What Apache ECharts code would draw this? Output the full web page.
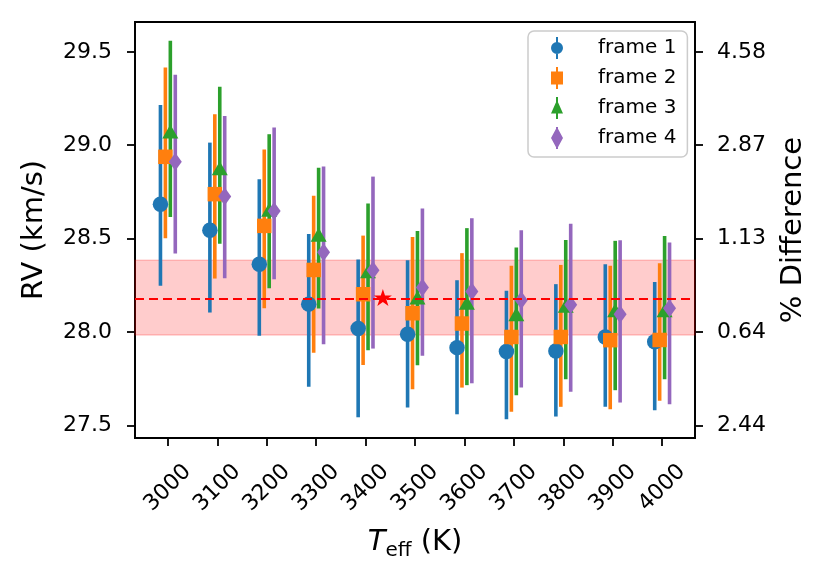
<!DOCTYPE html>
<html lang="en">
<head>
<meta charset="UTF-8">
<title>RV vs Teff</title>
<script src="https://cdn.jsdelivr.net/npm/echarts@6.0.0/dist/echarts.min.js"></script>
<style>
  html, body { margin: 0; padding: 0; background: #fff; }
  #main { width: 831px; height: 580px; }
</style>
</head>
<body>
<div id="main"></div>
<script>
// temperatures on the x axis
var temps = [3000, 3100, 3200, 3300, 3400, 3500, 3600, 3700, 3800, 3900, 4000];

// RV values per frame (km/s), with the top and bottom ends of each error bar
var rv1   = [28.684, 28.545, 28.363, 28.149, 28.018, 27.988, 27.916, 27.895, 27.898, 27.973, 27.947];
var rv1Hi = [29.216, 29.014, 28.818, 28.524, 28.388, 28.384, 28.277, 28.220, 28.256, 28.363, 28.268];
var rv1Lo = [28.247, 28.104, 27.979, 27.706, 27.543, 27.595, 27.559, 27.533, 27.547, 27.600, 27.581];

var rv2   = [28.938, 28.738, 28.568, 28.332, 28.202, 28.100, 28.045, 27.973, 27.973, 27.956, 27.957];
var rv2Hi = [29.416, 29.166, 28.977, 28.730, 28.516, 28.509, 28.422, 28.354, 28.359, 28.354, 28.368];
var rv2Lo = [28.502, 28.286, 28.127, 27.889, 27.823, 27.693, 27.702, 27.572, 27.599, 27.586, 27.631];

var rv3   = [29.073, 28.877, 28.654, 28.521, 28.325, 28.184, 28.157, 28.095, 28.140, 28.116, 28.116];
var rv3Hi = [29.559, 29.313, 29.059, 28.880, 28.688, 28.541, 28.556, 28.452, 28.493, 28.488, 28.514];
var rv3Lo = [28.616, 28.473, 28.234, 28.125, 27.902, 27.822, 27.715, 27.661, 27.747, 27.688, 27.747];

var rv4   = [28.911, 28.725, 28.648, 28.427, 28.331, 28.238, 28.216, 28.170, 28.145, 28.095, 28.127];
var rv4Hi = [29.377, 29.157, 29.095, 28.886, 28.832, 28.661, 28.609, 28.545, 28.580, 28.491, 28.479];
var rv4Lo = [28.420, 28.288, 28.282, 27.934, 27.911, 27.872, 27.725, 27.702, 27.680, 27.622, 27.613];

// horizontal shift of each frame around its temperature (K)
var frameOffsets = [-15, -5, 5, 15];

// reference RV, its band, and the star marker
var refRV = 28.184;
var refBand = [27.984, 28.384];
var starPoint = [3435, 28.184];

// tick labels
var rvTicks = [27.5, 28.0, 28.5, 29.0, 29.5];
var pctLabels = ['2.44', '0.64', '1.13', '2.87', '4.58'];

var frameNames = ['frame 1', 'frame 2', 'frame 3', 'frame 4'];
var frameColors = ['#1f77b4', '#ff7f0e', '#2ca02c', '#9467bd'];
var frameSymbols = ['circle', 'rect', 'triangle', 'diamond'];
var frameSizes = [15.5, 14.5, [16, 14], [13, 18]];
var legendIcons = [
  'path://M5,0 L7,0 L7,22 L5,22 Z M0,11 A6,6 0 0,1 12,11 A6,6 0 0,1 0,11 Z',
  'path://M5,0 L7,0 L7,22 L5,22 Z M0,4.5 L12,4.5 L12,17.5 L0,17.5 Z',
  'path://M5,0 L7,0 L7,22 L5,22 Z M6,3 L12,16.5 L0,16.5 Z',
  'path://M5,0 L7,0 L7,22 L5,22 Z M6,0 L12,11 L6,22 L0,11 Z'
];
var starPath = 'path://M50,0 L61.23,34.55 L97.55,34.55 L68.17,55.9 L79.39,90.45 L50,69.1 L20.61,90.45 L31.83,55.9 L2.45,34.55 L38.77,34.55 Z';

var frames = [[rv1, rv1Hi, rv1Lo], [rv2, rv2Hi, rv2Lo], [rv3, rv3Hi, rv3Lo], [rv4, rv4Hi, rv4Lo]];

var font = 'DejaVu Sans';
var series = [];

// band and dashed reference line, drawn underneath everything
series.push({
  type: 'scatter',
  name: 'ref',
  data: [],
  z: 1,
  silent: true,
  markArea: {
    silent: true,
    itemStyle: { color: 'rgba(255,0,0,0.2)', borderColor: 'rgba(255,0,0,0.2)', borderWidth: 1.5 },
    data: [[{ yAxis: refBand[0] }, { yAxis: refBand[1] }]]
  },
  markLine: {
    silent: true,
    symbol: 'none',
    label: { show: false },
    lineStyle: { color: '#ff0000', type: [9, 5], width: 2 },
    data: [{ yAxis: refRV }]
  }
});

frames.forEach(function (f, k) {
  var pts = [], bars = [];
  temps.forEach(function (t, i) {
    var x = t + frameOffsets[k];
    pts.push([x, f[0][i]]);
    bars.push([x, f[2][i], f[1][i]]);
  });
  var color = frameColors[k];
  series.push({
    type: 'custom',
    name: frameNames[k],
    z: 2,
    data: bars,
    encode: { x: 0, y: [1, 2] },
    renderItem: function (params, api) {
      var a = api.coord([api.value(0), api.value(1)]);
      var b = api.coord([api.value(0), api.value(2)]);
      return {
        type: 'line',
        shape: { x1: a[0], y1: a[1], x2: b[0], y2: b[1] },
        style: { stroke: color, lineWidth: 3.6 }
      };
    }
  });
  series.push({
    type: 'scatter',
    name: frameNames[k],
    z: 2,
    data: pts,
    symbol: frameSymbols[k],
    symbolSize: frameSizes[k],
    itemStyle: { color: color, opacity: 1 }
  });
});

series.push({
  type: 'scatter',
  name: 'star',
  z: 3,
  data: [starPoint],
  symbol: starPath,
  symbolSize: [18, 17],
  itemStyle: { color: '#ff0000', opacity: 1 }
});

var chart = echarts.init(document.getElementById('main'), null, { renderer: 'canvas' });

chart.setOption({
  animation: false,
  backgroundColor: '#ffffff',
  textStyle: { fontFamily: font },
  grid: {
    left: 135, right: 136, top: 22, bottom: 142,
    show: true, borderColor: '#000', borderWidth: 1.8,
    outerBoundsMode: 'none'
  },
  legend: {
    left: 528, top: 31,
    orient: 'vertical',
    itemWidth: 12, itemHeight: 22, itemGap: 8,
    padding: [6, 11, 8, 23],
    backgroundColor: 'rgba(255,255,255,0.8)',
    borderColor: '#cccccc', borderWidth: 1.5, borderRadius: 6,
    textStyle: { fontFamily: font, fontSize: 20, color: '#000', lineHeight: 22, padding: [0, 0, 0, 30] },
    data: frameNames.map(function (n, k) {
      return { name: n, icon: legendIcons[k], itemStyle: { color: frameColors[k] } };
    })
  },
  xAxis: {
    type: 'value',
    min: 2933.5, max: 4066.5,
    splitLine: { show: false },
    axisLine: { show: true, lineStyle: { color: '#000', width: 1.8 } },
    axisTick: { show: true, length: 8, lineStyle: { color: '#000', width: 1.8 }, customValues: temps },
    axisLabel: {
      customValues: temps,
      rotate: 45, align: 'center', verticalAlign: 'middle', margin: 50,
      fontFamily: font, fontSize: 22, color: '#000',
      formatter: function (v) { return String(v); }
    },
    name: '{t|T}{s|eff}{r| (K)}',
    nameLocation: 'middle',
    nameGap: 91,
    nameTextStyle: {
      rich: {
        t: { fontFamily: font, fontStyle: 'italic', fontSize: 29, color: '#000', verticalAlign: 'bottom', lineHeight: 32, padding: [0, 0, 4, 0] },
        s: { fontFamily: font, fontSize: 20, color: '#000', verticalAlign: 'bottom', lineHeight: 22 },
        r: { fontFamily: font, fontSize: 29, color: '#000', verticalAlign: 'bottom', lineHeight: 32, padding: [0, 0, 4, 0] }
      }
    }
  },
  yAxis: [{
    type: 'value',
    min: 27.432, max: 29.66,
    position: 'left',
    splitLine: { show: false },
    axisLine: { show: true, lineStyle: { color: '#000', width: 1.8 } },
    axisTick: { show: true, length: 8, lineStyle: { color: '#000', width: 1.8 }, customValues: rvTicks },
    axisLabel: {
      customValues: rvTicks, margin: 23,
      fontFamily: font, fontSize: 22, color: '#000',
      formatter: function (v) { return v.toFixed(1); }
    },
    name: 'RV (km/s)',
    nameLocation: 'middle',
    nameGap: 86,
    nameTextStyle: { fontFamily: font, fontSize: 29, color: '#000' }
  }, {
    type: 'value',
    min: 27.432, max: 29.66,
    position: 'right',
    splitLine: { show: false },
    axisLine: { show: true, lineStyle: { color: '#000', width: 1.8 } },
    axisTick: { show: true, length: 8, lineStyle: { color: '#000', width: 1.8 }, customValues: rvTicks },
    axisLabel: {
      customValues: rvTicks, margin: 22,
      fontFamily: font, fontSize: 22, color: '#000',
      formatter: function (v) { return pctLabels[Math.round((v - rvTicks[0]) / 0.5)]; }
    },
    name: '% Difference',
    nameLocation: 'middle',
    nameGap: 84,
    nameTextStyle: { fontFamily: font, fontSize: 29, color: '#000' }
  }],
  series: series
});
</script>
</body>
</html>
